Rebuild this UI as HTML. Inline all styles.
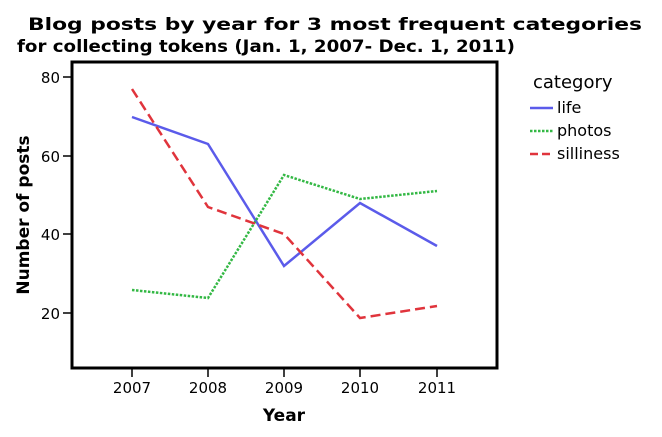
<!DOCTYPE html>
<html><head><style>body{margin:0;background:#fff}svg{display:block}</style></head><body>
<svg width="662" height="437" xmlns="http://www.w3.org/2000/svg" font-family="'DejaVu Sans','Liberation Sans',sans-serif">
<rect width="662" height="437" fill="#fff"/>
<text x="28" y="30" font-size="17" font-weight="bold" textLength="614" lengthAdjust="spacingAndGlyphs">Blog posts by year for 3 most frequent categories</text>
<text x="17" y="52" font-size="17" font-weight="bold" textLength="498" lengthAdjust="spacingAndGlyphs">for collecting tokens (Jan. 1, 2007- Dec. 1, 2011)</text>
<rect x="72" y="62" width="425" height="306" fill="none" stroke="#000" stroke-width="3"/>
<g stroke="#000" stroke-width="1.5">
<line x1="63" y1="77" x2="71" y2="77"/><line x1="63" y1="156" x2="71" y2="156"/><line x1="63" y1="234" x2="71" y2="234"/><line x1="63" y1="313" x2="71" y2="313"/>
<line x1="132" y1="369" x2="132" y2="377"/><line x1="208" y1="369" x2="208" y2="377"/><line x1="284" y1="369" x2="284" y2="377"/><line x1="360" y1="369" x2="360" y2="377"/><line x1="437" y1="369" x2="437" y2="377"/>
</g>
<g font-size="15" text-anchor="end">
<text x="60" y="83">80</text><text x="60" y="162">60</text><text x="60" y="240">40</text><text x="60" y="319">20</text>
</g>
<g font-size="15" text-anchor="middle">
<text x="132" y="393">2007</text><text x="208" y="393">2008</text><text x="284" y="393">2009</text><text x="360" y="393">2010</text><text x="437" y="393">2011</text>
</g>
<text x="284" y="421" text-anchor="middle" font-size="17" font-weight="bold">Year</text>
<text transform="translate(29,215) rotate(-90)" text-anchor="middle" font-size="17" font-weight="bold">Number of posts</text>
<polyline fill="none" stroke="#5b5bea" stroke-width="2.5" points="132,117 208,144 284,266 360,203 437,246"/>
<polyline fill="none" stroke="#33b844" stroke-width="2.5" stroke-dasharray="2.5,1.5" points="132,290 208,298 284,175 360,199 437,191"/>
<polyline fill="none" stroke="#e0343c" stroke-width="2.5" stroke-dasharray="10,5" points="132,89 208,207 284,234 360,318 437,306"/>
<text x="533" y="88" font-size="18">category</text>
<line x1="530" y1="108" x2="553" y2="108" stroke="#5b5bea" stroke-width="2.5"/>
<line x1="530" y1="131" x2="553" y2="131" stroke="#33b844" stroke-width="2.5" stroke-dasharray="2.5,1.5"/>
<line x1="530" y1="154" x2="553" y2="154" stroke="#e0343c" stroke-width="2.5" stroke-dasharray="8,4"/>
<g font-size="16"><text x="557" y="113">life</text><text x="557" y="136">photos</text><text x="557" y="159">silliness</text></g>
</svg>
</body></html>
